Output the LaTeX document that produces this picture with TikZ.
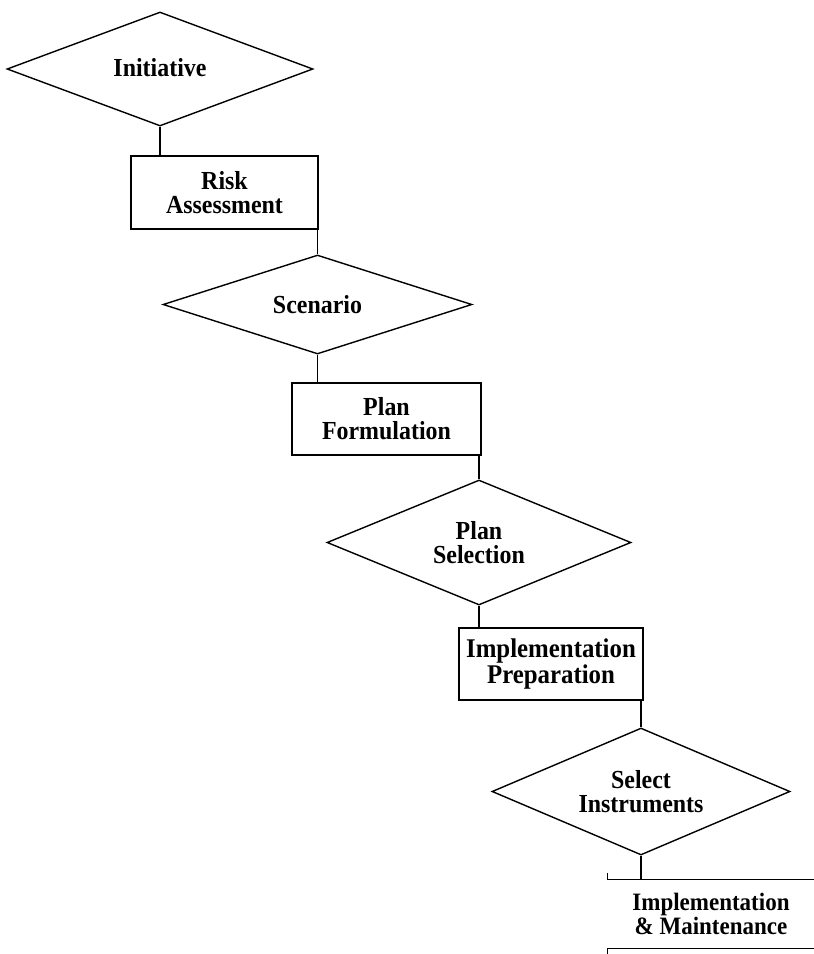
\documentclass[tikz,border=0pt]{standalone}
\usepackage{fontspec}
\setmainfont[FakeStretch=0.92]{Liberation Serif}
\usetikzlibrary{shapes.geometric}
\tikzset{
  lbl/.style={font=\bfseries\fontsize{26}{24}\selectfont},
  boxnode/.style={draw, line width=1.2pt, inner sep=0pt, align=center, lbl},
  dianode/.style={diamond, draw, line width=1.4pt, inner sep=0pt, aspect=2.6, align=center, lbl},
  openbox/.style={inner sep=0pt, align=center, font=\bfseries\fontsize{25}{24}\selectfont},
  link/.style={line width=1.3pt}
}
\begin{document}
\begin{tikzpicture}[x=1pt,y=-1pt]
\useasboundingbox (0,0) rectangle (814,954);
\node[dianode, minimum width=306pt, minimum height=114pt] (d1) at (160,69) {\raisebox{4pt}{Initiative}};
\node[boxnode, minimum width=187pt, minimum height=73pt] (b1) at (224.5,192.5) {Risk\\Assessment};
\node[dianode, minimum width=309pt, minimum height=99pt] (d2) at (317.5,304.5) {Scenario};
\node[boxnode, minimum width=189pt, minimum height=72pt] (b2) at (386.5,419) {Plan\\Formulation};
\node[dianode, minimum width=304pt, minimum height=125pt] (d3) at (479,542.5) {Plan\\Selection};
\node[boxnode, minimum width=184pt, minimum height=72pt, font=\bfseries\fontsize{27}{24}\selectfont] (b3) at (551,664) {Implementation\\Preparation};
\node[dianode, minimum width=298pt, minimum height=127pt] (d4) at (641,791.5) {Select\\Instruments};
\node[openbox, minimum width=206pt, minimum height=68pt] (b4) at (711,914) {Implementation\\\&~Maintenance};
% partial border of last box
\draw[link] ([yshift=7pt]b4.north west) -- (b4.north west) -- (b4.north east);
\draw[link] ([yshift=-8pt]b4.south west) -- (b4.south west) -- (b4.south east);
% connectors
\draw[link] (d1.south) -- (d1.south |- b1.north);
\draw[link] (d2.north |- b1.south) -- (d2.north);
\draw[link] (d2.south) -- (d2.south |- b2.north);
\draw[link] (d3.north |- b2.south) -- (d3.north);
\draw[link] (d3.south) -- (d3.south |- b3.north);
\draw[link] (d4.north |- b3.south) -- (d4.north);
\draw[link] (d4.south) -- (d4.south |- b4.north);
\end{tikzpicture}
\end{document}
